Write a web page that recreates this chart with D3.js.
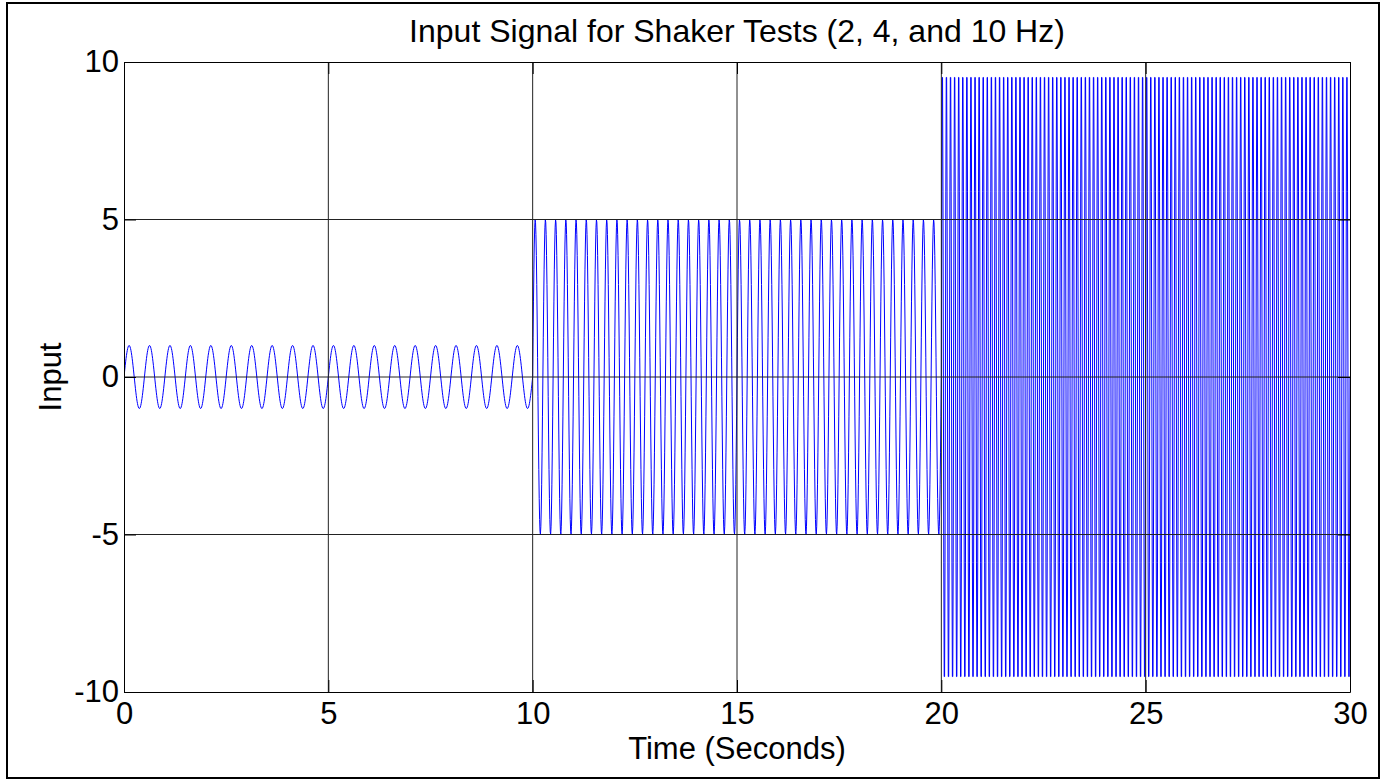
<!DOCTYPE html>
<html>

<head>
    <meta charset="utf-8">
    <title>Input Signal for Shaker Tests</title>

    <style>
        body {
            margin: 0;
            background: white;
        }

        svg {
            font-family: 'Liberation Sans', Arial, sans-serif;
            display: block;
        }

        .axis text {
            font-size: 31px;
            fill: black;
        }

        .axis line,
        .axis path {
            stroke: black;
            stroke-width: 1;
        }

        .grid line {
            stroke: #222;
            stroke-width: 1;
        }
    </style>
</head>

<body>
    <figure style="margin:0"></figure>

    <script src="https://d3js.org/d3.v7.min.js"></script>

    <script>

        ////////////////////////////////////
        ///////////// Data /////////////////
        ////////////////////////////////////

        // three test segments (seconds, Hz, amplitude)
        const segStart = [0, 10, 20]
        const segEnd = [10, 20, 30]
        const segFreq = [2, 4, 10]
        const segAmp = [1, 5, 10]
        const sampleRate = 100 // samples per second

        const xTicks = [0, 5, 10, 15, 20, 25, 30]
        const yTicks = [-10, -5, 0, 5, 10]

        const titleText = 'Input Signal for Shaker Tests (2, 4, and 10 Hz)'
        const xLabel = 'Time (Seconds)'
        const yLabel = 'Input'

        ////////////////////////////////////
        ///////////// SVG Setup ////////////
        ////////////////////////////////////

        const svgWidth = 1390
        const svgHeight = 780

        const margin = {
            left: 124,
            right: 40,
            top: 62,
            bottom: 88
        }

        const width = svgWidth - margin.left - margin.right
        const height = svgHeight - margin.top - margin.bottom

        const root = d3.select('figure')
            .append('svg')
            .attr('width', svgWidth)
            .attr('height', svgHeight)

        // figure frame
        root.append('rect')
            .attr('x', 7)
            .attr('y', 3)
            .attr('width', 1372)
            .attr('height', 775)
            .attr('fill', 'white')
            .attr('stroke', 'black')
            .attr('stroke-width', 2)

        const svg = root.append('g')
            .attr('transform', 'translate(' + margin.left + ',' + margin.top + ')')

        ////////////////////////////////////
        ///////// Build signal /////////////
        ////////////////////////////////////

        const signal = []
        segStart.forEach(function (s, i) {
            const n = Math.round((segEnd[i] - s) * sampleRate)
            const first = i === 0 ? 0 : 1
            for (let k = first; k <= n; k++) {
                const t = s + k / sampleRate
                signal.push({ t: t, v: segAmp[i] * Math.sin(2 * Math.PI * segFreq[i] * t) })
            }
        })

        ////////////////////////////////////
        /////////////// Scales /////////////
        ////////////////////////////////////

        const xScale = d3.scaleLinear()
            .domain([0, 30])
            .range([0, width])

        const yScale = d3.scaleLinear()
            .domain([-10, 10])
            .range([height, 0])

        // plain hyphen for negatives, like the original
        const plain = function (d) { return String(d) }

        ////////////////////////////////////
        /////////////// Draw items /////////
        ////////////////////////////////////

        svg.append('defs').append('clipPath')
            .attr('id', 'plotclip')
            .append('rect')
            .attr('width', width)
            .attr('height', height)

        const line = d3.line()
            .x(function (d) { return xScale(d.t) })
            .y(function (d) { return yScale(d.v) })

        svg.append('path')
            .datum(signal)
            .attr('clip-path', 'url(#plotclip)')
            .attr('d', line)
            .attr('fill', 'none')
            .attr('stroke', '#0000ff')
            .attr('stroke-width', 1)

        // grid lines
        const grid = svg.append('g').attr('class', 'grid')

        grid.selectAll('.gx')
            .data(xTicks.slice(1, -1))
            .enter()
            .append('line')
            .attr('x1', function (d) { return xScale(d) })
            .attr('x2', function (d) { return xScale(d) })
            .attr('y1', 0)
            .attr('y2', height)

        grid.selectAll('.gy')
            .data(yTicks.slice(1, -1))
            .enter()
            .append('line')
            .attr('y1', function (d) { return yScale(d) })
            .attr('y2', function (d) { return yScale(d) })
            .attr('x1', 0)
            .attr('x2', width)

        // axes, ticks pointing inward
        svg.append('g')
            .attr('class', 'axis')
            .attr('transform', 'translate(0,' + height + ')')
            .call(d3.axisBottom(xScale).tickValues(xTicks).tickFormat(plain)
                .tickSizeInner(-12).tickSizeOuter(0).tickPadding(10))

        svg.append('g')
            .attr('class', 'axis')
            .call(d3.axisLeft(yScale).tickValues(yTicks).tickFormat(plain)
                .tickSizeInner(-12).tickSizeOuter(0).tickPadding(5))

        svg.append('g')
            .attr('class', 'axis')
            .call(d3.axisTop(xScale).tickValues(xTicks).tickSizeInner(-12).tickSizeOuter(0).tickFormat(''))

        svg.append('g')
            .attr('class', 'axis')
            .attr('transform', 'translate(' + width + ',0)')
            .call(d3.axisRight(yScale).tickValues(yTicks).tickSizeInner(-12).tickSizeOuter(0).tickFormat(''))

        svg.selectAll('.axis text').attr('font-family', null).attr('font-size', null)

        ////////////////////////////////////
        /////////////// Labels /////////////
        ////////////////////////////////////

        svg.append('text')
            .attr('x', width / 2)
            .attr('y', -20)
            .attr('text-anchor', 'middle')
            .style('font-size', '32px')
            .text(titleText)

        svg.append('text')
            .attr('x', width / 2)
            .attr('y', height + 67)
            .attr('text-anchor', 'middle')
            .style('font-size', '31px')
            .text(xLabel)

        svg.append('text')
            .attr('transform', 'translate(' + (61 - margin.left) + ',' + (height / 2) + ') rotate(-90)')
            .attr('text-anchor', 'middle')
            .style('font-size', '31px')
            .text(yLabel)

    </script>
</body>

</html>
